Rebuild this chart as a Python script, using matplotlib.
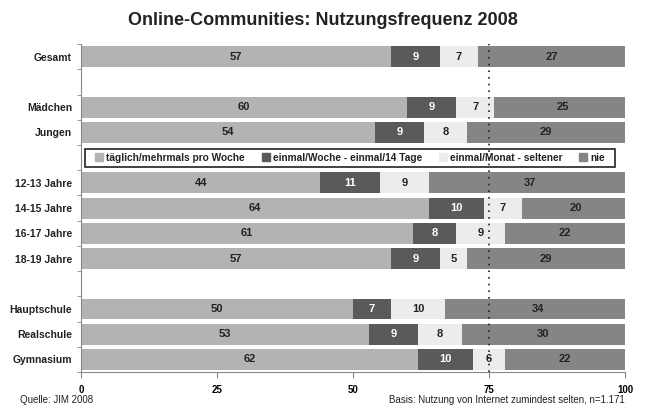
import numpy as np
import matplotlib.pyplot as plt

plt.rcParams['font.family'] = ['Liberation Sans', 'DejaVu Sans']

categories = ["Gesamt", "", "Mädchen", "Jungen", "", "12-13 Jahre", "14-15 Jahre",
              "16-17 Jahre", "18-19 Jahre", "", "Hauptschule", "Realschule", "Gymnasium"]
series_names = ["täglich/mehrmals pro Woche", "einmal/Woche - einmal/14 Tage",
                "einmal/Monat - seltener", "nie"]
taeglich = [57, None, 60, 54, None, 44, 64, 61, 57, None, 50, 53, 62]
woche = [9, None, 9, 9, None, 11, 10, 8, 9, None, 7, 9, 10]
monat = [7, None, 7, 8, None, 9, 7, 9, 5, None, 10, 8, 6]
nie = [27, None, 25, 29, None, 37, 20, 22, 29, None, 34, 30, 22]

colors = ['#b3b3b3', '#5a5a5a', '#ececec', '#858585']
text_colors = ['#222222', '#ffffff', '#222222', '#222222']

fig = plt.figure(figsize=(6.46, 4.08), dpi=100)
ax = fig.add_axes([0.1254, 0.088, 0.842, 0.804])

series = [taeglich, woche, monat, nie]
y = np.arange(len(categories))
for i, row in enumerate(y):
    if taeglich[i] is None:
        continue
    left = 0
    for s, col, tc in zip(series, colors, text_colors):
        v = s[i]
        ax.barh(row, v, left=left, height=0.83, color=col, edgecolor='none')
        ax.text(left + v / 2, row, str(v), ha='center', va='center',
                fontsize=8, fontweight='bold', color=tc)
        left += v

ax.axvline(75, color='#222222', linestyle=(0, (1, 3)), linewidth=1.2, zorder=5)

ax.set_xlim(0, 100)
ax.set_ylim(12.5, -0.5)
ax.set_xticks([0, 25, 50, 75, 100])
ax.set_xticklabels(['0', '25', '50', '75', '100'], fontsize=7, fontweight='bold')
ax.set_yticks(y)
ax.set_yticklabels(categories, fontsize=7.5, fontweight='bold', color='#222222')
ax.tick_params(axis='y', length=0, pad=6.5)
ax.set_yticks(np.arange(-0.5, 13, 1), minor=True)
ax.tick_params(axis='y', which='minor', length=3, color='#888888')
ax.tick_params(axis='x', length=4, color='#888888', pad=5)
for side in ['top', 'right']:
    ax.spines[side].set_visible(False)
for side in ['left', 'bottom']:
    ax.spines[side].set_color('#888888')

# legend box in the empty row
ax.add_patch(plt.Rectangle((0.75, 4 - 0.36), 97.45, 0.72, facecolor='white',
                           edgecolor='#222222', linewidth=1.2, zorder=3))
handles = [plt.Rectangle((0, 0), 1, 1, color=c) for c in colors]
leg = ax.legend(handles, series_names, loc='center left', bbox_to_anchor=(2.6, 4),
                bbox_transform=ax.transData,
                ncol=4, fontsize=7.3, frameon=False, handlelength=0.8, handleheight=0.8,
                handletextpad=0.3, columnspacing=1.65, borderpad=0, borderaxespad=0)
leg.set_zorder(4)
for t in leg.get_texts():
    t.set_fontweight('bold')
    t.set_color('#222222')

fig.text(0.5, 0.95, "Online-Communities: Nutzungsfrequenz 2008", ha='center', va='center',
         fontsize=13, fontweight='bold', color='#222222')
fig.text(0.031, 0.02, "Quelle: JIM 2008", fontsize=7, color='#222222', va='center')
fig.text(0.9675, 0.02, "Basis: Nutzung von Internet zumindest selten, n=1.171", fontsize=7,
         color='#222222', ha='right', va='center')

fig.savefig('out.png', dpi=100)
